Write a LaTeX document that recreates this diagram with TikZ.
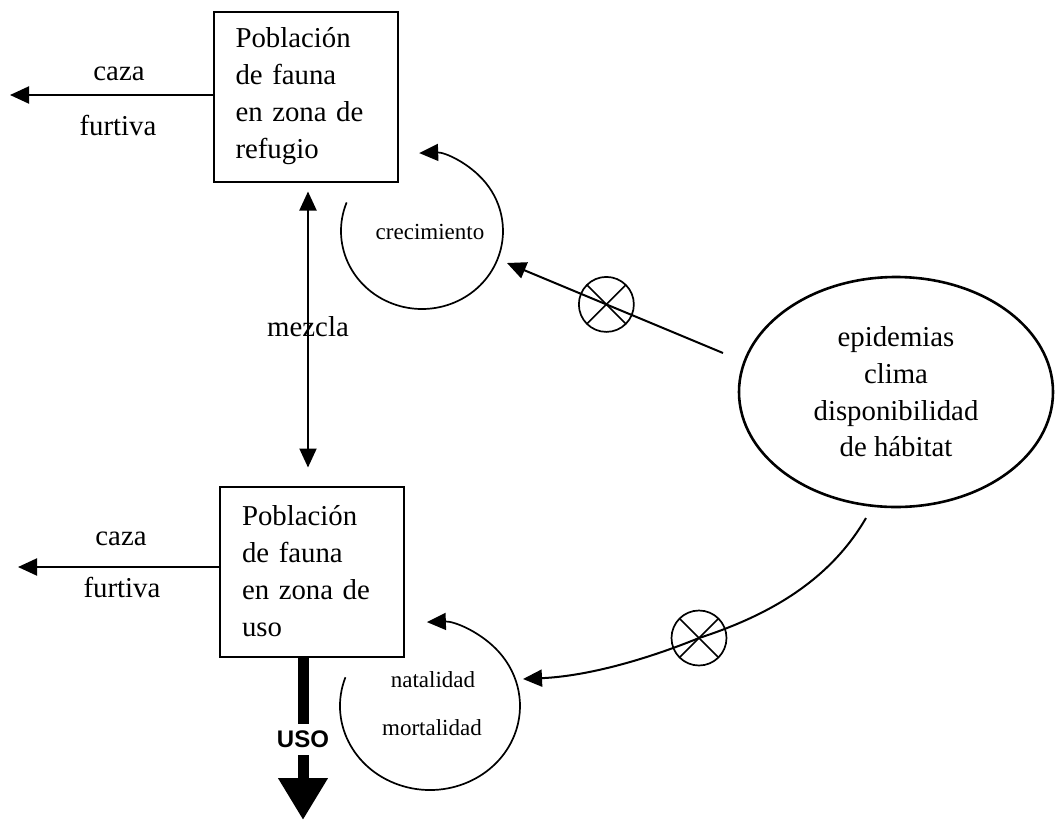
\documentclass[tikz,border=0pt]{standalone}
\usepackage{fontspec}
\setmainfont{Liberation Serif}
\setsansfont{Liberation Sans}
\usepackage{tikz}
\usetikzlibrary{positioning}
\usetikzlibrary{arrows.meta}
\usetikzlibrary{shapes.geometric}

\tikzset{
  flecha/.tip={Triangle[length=19pt,width=17pt]},
  caja/.style={draw, line width=2pt, align=left, text width=140pt, inner xsep=22pt, minimum height=170pt, font=\fontsize{28.8}{37}\selectfont},
  texto/.style={anchor=base, inner sep=0pt, font=\fontsize{28.8}{37}\selectfont},
  chico/.style={anchor=base, inner sep=0pt, font=\fontsize{23}{28}\selectfont},
  flujo/.style={-flecha, line width=2pt},
  ciclo/.style={-flecha, line width=1.7pt},
  valvula/.style={circle, draw, line width=1.7pt, minimum size=55pt, inner sep=0pt,
    path picture={
      \draw[-, line width=1.7pt] (path picture bounding box.north west) -- (path picture bounding box.south east)
        (path picture bounding box.north east) -- (path picture bounding box.south west);
    }}
}

\begin{document}
\begin{tikzpicture}[x=1pt, y=-1pt]
  \path[use as bounding box, fill=white] (0,0) rectangle (1055,820);

  \node at (305.5,96.5) [caja] (refugio) {
    Población\\de fauna\\en zona de\\refugio
  };

  \node at (312,571.5) [caja] (zonaUso) {
    Población\\de fauna\\en zona de\\uso
  };

  \node at (896,392) [ellipse,draw,line width=2.6pt,minimum width=314pt,minimum height=230pt,align=center,font=\fontsize{28.8}{36.7}\selectfont] (factores) {
    epidemias\\clima\\disponibilidad\\de hábitat
  };

  \coordinate (cazaFinA) at (10,95);
  \coordinate (cazaFinB) at (18,567);
  \draw[flujo] (refugio.west |- cazaFinA) -- (cazaFinA);
  \draw[flujo] (zonaUso.west |- cazaFinB) -- (cazaFinB);
  \node at (119,80) [texto] (cazaA) {caza};
  \node at (118,135) [texto] (furtivaA) {furtiva};
  \node at (121,545) [texto] (cazaB) {caza};
  \node at (122,597) [texto] (furtivaB) {furtiva};

  \node at (308,327) [inner sep=0pt,font=\fontsize{28.8}{37}\selectfont] (mezcla) {mezcla};
  \draw[flecha-flecha, line width=2pt, shorten <=9pt, shorten >=18pt] (refugio.south -| mezcla) -- (zonaUso.north -| mezcla);

  \coordinate (usoFin) at (303,820);
  \draw[line width=11pt, -{Triangle[length=42pt,width=47pt]}] (zonaUso.south -| usoFin) -- (usoFin);
  \node at (303,739) [fill=white,inner xsep=1pt,inner ysep=7pt,font=\sffamily\bfseries\fontsize{24}{28}\selectfont] (usoLbl) {USO};

  \coordinate (crecC) at (422,231);
  \draw[ciclo] (crecC) ++(201.5:81 and 78) arc[start angle=201.5, end angle=-92, x radius=81, y radius=78];
  \node at (430,239) [chico] (crecimiento) {crecimiento};

  \coordinate (natC) at (430,706);
  \draw[ciclo] (natC) ++(200:90 and 84) arc[start angle=200, end angle=-92, x radius=90, y radius=84];
  \node at (433,687) [chico] (natalidad) {natalidad};
  \node at (432,735) [chico] (mortalidad) {mortalidad};

  \coordinate (factOutA) at (723,353);
  \coordinate (crecIn) at (507,263);
  \draw[flujo] (factOutA) -- node[valvula, pos=0.54] (valvA) {} (crecIn);

  \coordinate (factOutB) at (866,518);
  \coordinate (natIn) at (523,679);
  \node at (699,638) [valvula] (valvB) {};
  \draw[flujo] (factOutB) .. controls (830,580) and (770,615) .. (valvB.center)
    .. controls (650,658) and (590,676) .. (natIn);
\end{tikzpicture}
\end{document}
